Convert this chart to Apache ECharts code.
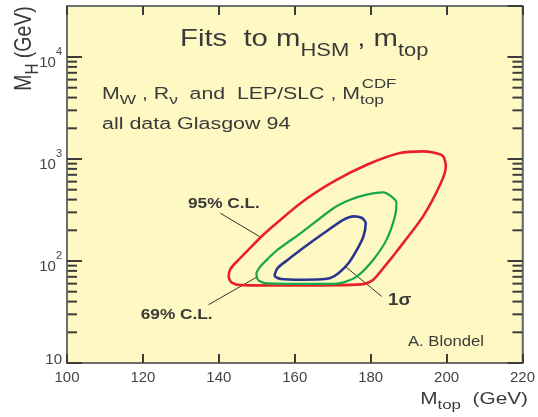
<!DOCTYPE html>
<html>
<head>
<meta charset="utf-8">
<script src="https://cdn.jsdelivr.net/npm/echarts@6/dist/echarts.min.js"></script>
<style>
html, body { margin: 0; padding: 0; background: #fff; }
#chart { width: 538px; height: 417px; }
</style>
</head>
<body>
<div id="chart"></div>
<script>
var xMin = 100, xMax = 220;
var yMin = 10, yMax = 31623;
var yMinorTicks = [20, 30, 40, 50, 60, 70, 80, 90,
                   200, 300, 400, 500, 600, 700, 800, 900,
                   2000, 3000, 4000, 5000, 6000, 7000, 8000, 9000];

// contours [M_top, M_H], closed on the flat bottom
var red95 = [[160, 57.5], [146, 58], [143.4, 61.5], [142.6, 70], [143.1, 84], [145.1, 102],
             [147.7, 128], [150.9, 169], [152.9, 198], [161.6, 371], [170.3, 603], [179, 879],
             [187.7, 1146], [193.8, 1189], [198.9, 1079], [199.8, 846], [198.5, 582],
             [193.8, 274], [187.2, 129], [183.7, 88.5], [180.7, 65.6], [178.1, 59.3],
             [172, 58], [160, 57.5]];
var green69 = [[163, 59.8], [152.1, 60.8], [150.3, 65.6], [149.9, 75], [150.9, 88], [152.9, 105],
               [155.5, 129], [161.6, 188], [170.3, 331], [174.6, 399], [179, 447], [183.3, 471],
               [186.8, 371], [186.4, 274], [184.2, 162], [180.7, 103], [176.4, 70.6],
               [172.9, 61.7], [170.3, 59.8], [163, 59.8]];
var blue1s = [[162, 65.6], [156.4, 66.7], [154.7, 71.8], [155.5, 85.3], [158.2, 103],
              [161.6, 129], [167.7, 188], [172.9, 254], [175.5, 274], [177.7, 264],
              [178.7, 236], [178.1, 174], [176.4, 129], [174.2, 95.5], [171.6, 76.2],
              [169.4, 68.1], [166, 65.8], [162, 65.6]];

// leader lines from the labels to the curves
var leader95 = [[140.4, 294], [150.8, 173]];
var leader69 = [[137.3, 37.3], [150.3, 70.6]];
var leader1s = [[173.3, 88.5], [182.9, 45]];

var font = '"Liberation Sans", Arial, sans-serif';
var ink = '#3a3a3a';
var frame = '#666';
var tickColor = '#3c3c3c';

var minorData = [];
yMinorTicks.forEach(function (v) {
    minorData.push([xMin, v]);
    minorData.push([xMax, v]);
});

function contour(name, data, color, width) {
    return {
        name: name,
        type: 'line',
        data: data,
        smooth: 0.25,
        showSymbol: false,
        symbol: 'none',
        lineStyle: { color: color, width: width },
        z: 3
    };
}

function leader(data) {
    return {
        type: 'line',
        data: data,
        showSymbol: false,
        symbol: 'none',
        lineStyle: { color: '#333', width: 1 },
        z: 2
    };
}

function axisLine() {
    return { show: true, lineStyle: { color: frame, width: 1.5 } };
}

function ticks(len) {
    return { show: true, inside: true, length: len, lineStyle: { color: tickColor, width: 2 } };
}

var option = {
    animation: false,
    grid: {
        left: 67, right: 11, top: 6, bottom: 54,
        show: true,
        backgroundColor: '#fef8c2',
        borderColor: frame,
        borderWidth: 1.5
    },
    xAxis: [{
        type: 'value',
        z: 5,
        min: xMin, max: xMax, interval: 20,
        axisLine: axisLine(),
        axisTick: ticks(9),
        axisLabel: { fontSize: 15, color: '#444', fontFamily: font, margin: 7 },
        splitLine: { show: false }
    }, {
        type: 'value',
        z: 5,
        position: 'top',
        min: xMin, max: xMax, interval: 20,
        axisLine: axisLine(),
        axisTick: ticks(9),
        axisLabel: { show: false },
        splitLine: { show: false }
    }],
    yAxis: [{
        type: 'log',
        z: 5,
        min: yMin, max: yMax,
        axisLine: axisLine(),
        axisTick: ticks(15),
        axisLabel: {
            margin: 5,
            showMaxLabel: false,
            formatter: function (v) {
                var l = Math.log(v) / Math.LN10;
                var e = Math.round(l);
                if (Math.abs(l - e) > 1e-6) return '';
                if (e === 1) return '{p|10}';
                return '{b|10}{s|' + e + '}';
            },
            rich: {
                p: { fontSize: 15, color: '#444', fontFamily: font, lineHeight: 20, padding: [0, 0, 6, 0] },
                b: { fontSize: 15, color: '#444', fontFamily: font, lineHeight: 20, padding: [12, 0, 0, 0] },
                s: { fontSize: 11, color: '#444', fontFamily: font, lineHeight: 22, verticalAlign: 'top' }
            }
        },
        splitLine: { show: false }
    }, {
        type: 'log',
        z: 5,
        position: 'right',
        min: yMin, max: yMax,
        axisLine: axisLine(),
        axisTick: ticks(15),
        axisLabel: { show: false },
        splitLine: { show: false }
    }],
    series: [
        {
            type: 'custom',
            z: 5,
            data: minorData,
            renderItem: function (params, api) {
                var p = api.coord([api.value(0), api.value(1)]);
                var dir = api.value(0) === xMin ? 1 : -1;
                return {
                    type: 'line',
                    shape: { x1: p[0], y1: p[1], x2: p[0] + dir * 10, y2: p[1] },
                    style: { stroke: tickColor, lineWidth: 2 }
                };
            }
        },
        contour('95% C.L.', red95, '#e8202a', 2.6),
        contour('69% C.L.', green69, '#17a64b', 2.2),
        contour('1 sigma', blue1s, '#2b358f', 2.6),
        leader(leader95),
        leader(leader69),
        leader(leader1s)
    ],
    graphic: [
        {
            type: 'text', x: 180, y: 39, scaleX: 1.22,
            style: {
                text: '{m|Fits  to m}{s|HSM}{m| , m}{s|top}',
                verticalAlign: 'middle',
                rich: {
                    m: { fontSize: 24, fontFamily: font, fill: ink, lineHeight: 42 },
                    s: { fontSize: 18, fontFamily: font, fill: ink, lineHeight: 18, verticalAlign: 'bottom' }
                }
            }
        },
        {
            type: 'text', x: 102, y: 94.7, scaleX: 1.33,
            style: {
                text: '{m|M}{s|W}{m| , R}{s|\u03bd}{m|  and  LEP/SLC , M}{s|top}',
                verticalAlign: 'middle',
                rich: {
                    m: { fontSize: 16, fontFamily: font, fill: ink, lineHeight: 25 },
                    s: { fontSize: 13, fontFamily: font, fill: ink, lineHeight: 13, verticalAlign: 'bottom' }
                }
            }
        },
        {
            type: 'text', x: 361.7, y: 84, scaleX: 1.3,
            style: { text: 'CDF', fontSize: 13, fontFamily: font, fill: ink, verticalAlign: 'middle' }
        },
        {
            type: 'text', x: 102, y: 124.7, scaleX: 1.34,
            style: { text: 'all data Glasgow 94', fontSize: 16, fontFamily: font, fill: ink, verticalAlign: 'middle' }
        },
        {
            type: 'text', x: 188, y: 204, scaleX: 1.15,
            style: { text: '95% C.L.', fontSize: 15, fontWeight: 'bold', fontFamily: font, fill: ink, verticalAlign: 'middle' }
        },
        {
            type: 'text', x: 140.7, y: 314.5, scaleX: 1.15,
            style: { text: '69% C.L.', fontSize: 15, fontWeight: 'bold', fontFamily: font, fill: ink, verticalAlign: 'middle' }
        },
        {
            type: 'text', x: 388, y: 300, scaleX: 1.1,
            style: { text: '1\u03c3', fontSize: 17, fontWeight: 'bold', fontFamily: font, fill: ink, verticalAlign: 'middle' }
        },
        {
            type: 'text', x: 408, y: 342, scaleX: 1.19,
            style: { text: 'A. Blondel', fontSize: 14, fontFamily: font, fill: ink, verticalAlign: 'middle' }
        },
        {
            type: 'text', x: 528, y: 399.7, scaleX: 1.3,
            style: {
                text: '{m|M}{s|top}{m|  (GeV)}',
                align: 'right',
                verticalAlign: 'middle',
                rich: {
                    m: { fontSize: 16, fontFamily: font, fill: ink, lineHeight: 25 },
                    s: { fontSize: 13, fontFamily: font, fill: ink, lineHeight: 13, verticalAlign: 'bottom' }
                }
            }
        },
        {
            type: 'text', x: 25, y: 48.5, rotation: Math.PI / 2, scaleX: 1.08, scaleY: 1.3,
            style: {
                text: '{m|M}{s|H}{m| (GeV)}',
                align: 'center',
                verticalAlign: 'middle',
                rich: {
                    m: { fontSize: 18, fontFamily: font, fill: ink, lineHeight: 27 },
                    s: { fontSize: 14, fontFamily: font, fill: ink, lineHeight: 14, verticalAlign: 'bottom' }
                }
            }
        }
    ]
};

var chart = echarts.init(document.getElementById('chart'));
chart.setOption(option);
</script>
</body>
</html>
